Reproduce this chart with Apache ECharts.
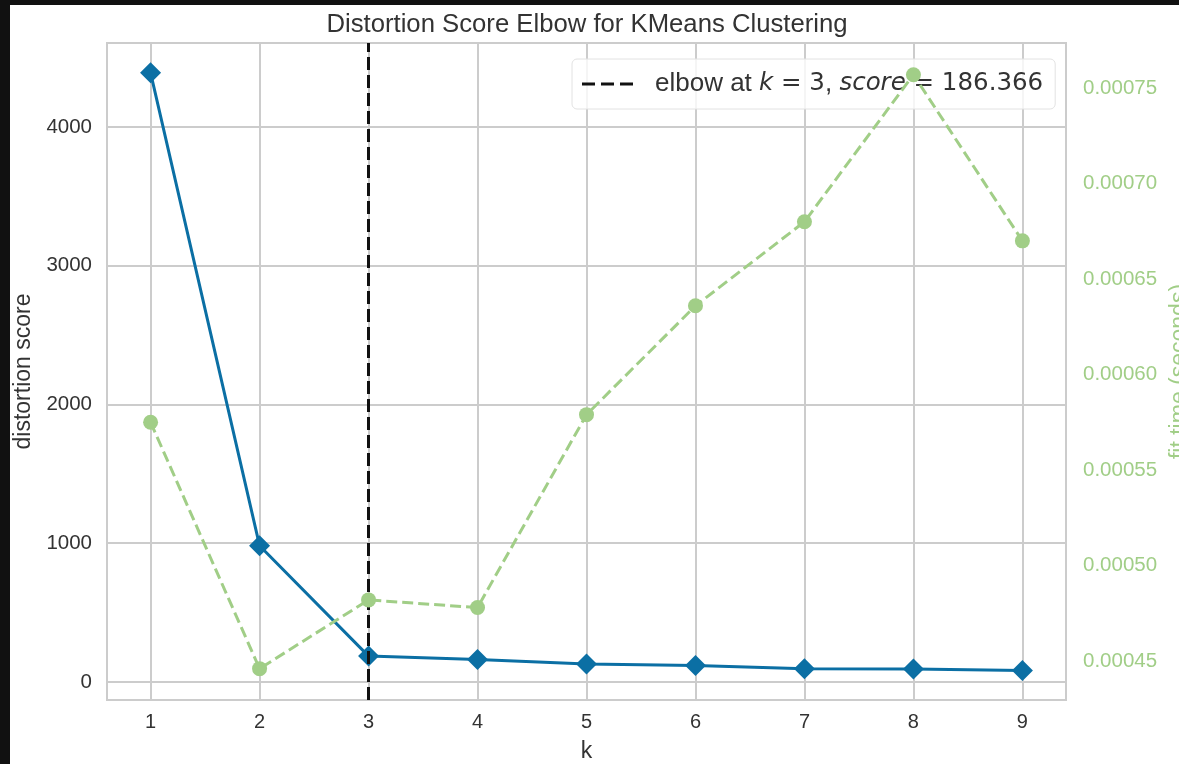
<!DOCTYPE html>
<html>
<head>
<meta charset="utf-8">
<script src="https://cdn.jsdelivr.net/npm/echarts@6/dist/echarts.min.js"></script>
<style>
  html, body { margin: 0; padding: 0; background: #111111; width: 1179px; height: 764px; overflow: hidden; }
  #chart { position: absolute; left: 10px; top: 5px; width: 1169px; height: 759px; background: #ffffff; }
</style>
</head>
<body>
<div id="chart"></div>
<script>
// ---- data ----
const kValues = [1, 2, 3, 4, 5, 6, 7, 8, 9];
const distortionScores = [4390, 982, 186.366, 162, 130, 118, 96, 93, 83];
const fitTimes = [0.000575, 0.000446, 0.000482, 0.000478, 0.000579, 0.000636, 0.000680, 0.000757, 0.000670];
const leftTicks = [0, 1000, 2000, 3000, 4000];
const rightTicks = [0.00045, 0.00050, 0.00055, 0.00060, 0.00065, 0.00070, 0.00075];
const elbowK = 3;
const elbowScore = 186.366;
const titleText = 'Distortion Score Elbow for KMeans Clustering';

// ---- chart ----
const blue = '#0b6fa4';
const green = '#a1ce87';
const chart = echarts.init(document.getElementById('chart'));

const distData = kValues.map((k, i) => [k, distortionScores[i]]);
const timeData = kValues.map((k, i) => [k, fitTimes[i]]);

const option = {
  animation: false,
  title: {
    text: titleText,
    left: 572,
    top: 2,
    textAlign: 'center',
    textStyle: { fontFamily: 'Liberation Sans', fontSize: 25.7, fontWeight: 'normal', color: '#333333' }
  },
  grid: {
    left: 97, top: 38, right: 113, bottom: 64,
    outerBoundsMode: 'none',
    containLabel: false,
    show: true, borderColor: '#cccccc', borderWidth: 2, backgroundColor: 'transparent'
  },
  legend: {
    data: [{
      name: 'elbow',
      icon: 'path://M0,0h13v3h-13zM19,0h13v3h-13zM38,0h13v3h-13z',
      itemStyle: { color: '#111111' }
    }],
    left: 562, top: 54,
    orient: 'horizontal',
    padding: [12, 12, 12, 10],
    backgroundColor: 'rgba(255,255,255,0.8)',
    borderColor: '#e2e2e2', borderWidth: 1, borderRadius: 5,
    itemWidth: 51, itemHeight: 3,
    z: 1,
    formatter: function () {
      return '{gap| }{t|elbow at }{i|k}{m| = ' + elbowK + '}{t|, }{i|score}{m| = ' + elbowScore.toFixed(3) + '}';
    },
    textStyle: {
      color: '#333333',
      rich: {
        gap: { width: 17, fontSize: 26 },
        t: { fontFamily: 'Liberation Sans', fontSize: 26, color: '#333333' },
        i: { fontFamily: 'DejaVu Sans', fontStyle: 'italic', fontSize: 24.5, color: '#333333' },
        m: { fontFamily: 'DejaVu Sans', fontSize: 24.5, color: '#333333' }
      }
    }
  },
  xAxis: {
    type: 'value',
    min: 0.6, max: 9.4,
    name: 'k',
    nameLocation: 'middle',
    nameGap: 40,
    nameTextStyle: { fontFamily: 'Liberation Sans', fontSize: 23, color: '#333333' },
    axisLine: { show: false },
    axisTick: { show: false, customValues: kValues },
    axisLabel: { customValues: kValues, margin: 12, fontFamily: 'Liberation Sans', fontSize: 20, color: '#333333' },
    splitLine: { show: true, lineStyle: { color: '#cccccc', width: 2 } }
  },
  yAxis: [
    {
      type: 'value',
      min: -130, max: 4605,
      name: 'distortion score',
      nameLocation: 'middle',
      nameGap: 72,
      nameRotate: 90,
      nameTextStyle: { fontFamily: 'Liberation Sans', fontSize: 23, color: '#333333' },
      axisLine: { show: false },
      axisTick: { show: false, customValues: leftTicks },
      axisLabel: {
        customValues: leftTicks, margin: 15, fontFamily: 'Liberation Sans', fontSize: 20.5, color: '#333333',
        formatter: v => String(v)
      },
      splitLine: { show: true, lineStyle: { color: '#cccccc', width: 2 } }
    },
    {
      type: 'value',
      position: 'right',
      min: 0.0004296, max: 0.0007736,
      name: 'fit time (seconds)',
      nameLocation: 'middle',
      nameGap: 101,
      nameRotate: 90,
      nameTextStyle: { fontFamily: 'Liberation Sans', fontSize: 23, color: green },
      axisLine: { show: false },
      axisTick: { show: false, customValues: rightTicks },
      axisLabel: {
        customValues: rightTicks, margin: 17, fontFamily: 'Liberation Sans', fontSize: 20.5, color: green,
        formatter: v => v.toFixed(5)
      },
      splitLine: { show: false }
    }
  ],
  series: [
    {
      name: 'distortion score',
      type: 'line',
      xAxisIndex: 0, yAxisIndex: 0,
      data: distData,
      symbol: 'diamond',
      symbolSize: 21,
      itemStyle: { color: blue },
      lineStyle: { color: blue, width: 3 },
      z: 4
    },
    {
      name: 'fit time',
      type: 'line',
      xAxisIndex: 0, yAxisIndex: 1,
      data: timeData,
      symbol: 'circle',
      symbolSize: 15,
      itemStyle: { color: green },
      lineStyle: { color: green, width: 3, type: [11, 5] },
      z: 5
    },
    {
      name: 'elbow',
      type: 'line',
      xAxisIndex: 0, yAxisIndex: 0,
      data: [],
      symbol: 'none',
      itemStyle: { color: '#111111' },
      lineStyle: { color: '#111111', width: 3, type: [13, 6] },
      z: 3,
      markLine: {
        silent: true,
        symbol: 'none',
        label: { show: false },
        lineStyle: { color: '#111111', width: 3, type: [13, 5] },
        data: [{ xAxis: elbowK }]
      }
    }
  ]
};
chart.setOption(option);
</script>
</body>
</html>
